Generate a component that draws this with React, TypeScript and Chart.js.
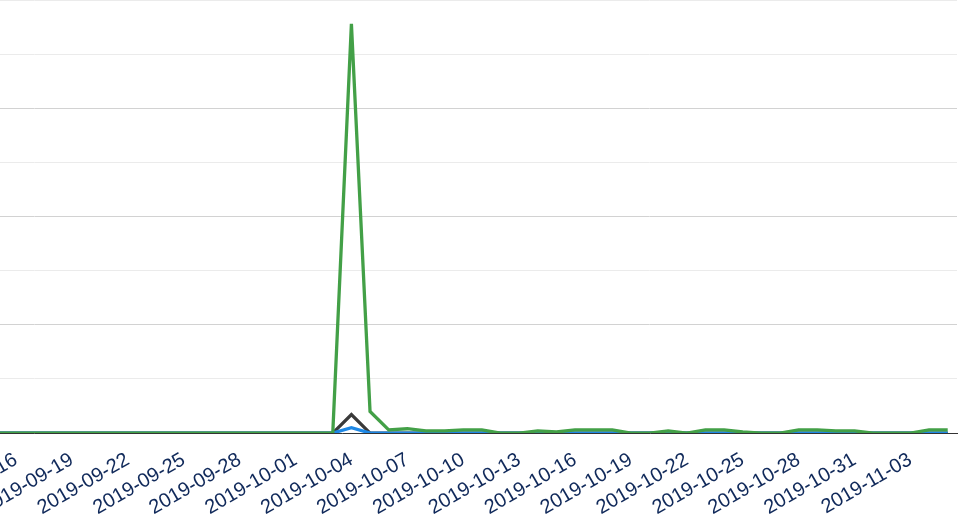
import React, { useEffect, useRef } from "react";
import { Chart, registerables } from "chart.js";

Chart.register(...registerables);

function buildDates(): string[] {
  const out: string[] = [];
  const start = new Date(Date.UTC(2019, 8, 1));
  const end = new Date(Date.UTC(2019, 10, 5));
  for (let d = start; d <= end; d = new Date(d.getTime() + 86400000)) {
    out.push(d.toISOString().slice(0, 10));
  }
  return out;
}

const dates: string[] = buildDates(); // 2019-09-01 .. 2019-11-05

const zerosBefore: number[] = [
  0, 0, 0, 0, 0, 0, 0, 0, 0, 0, 0, 0, 0, 0, 0, 0, 0, 0, 0, 0, 0, 0, 0, 0, 0, 0, 0, 0, 0, 0, 0, 0, 0,
];

// 2019-10-04 .. 2019-11-05
const greenTail: number[] = [
  378, 20, 3, 4, 2, 2, 3, 3, 0, 0,
  2, 1, 3, 3, 3, 0, 0, 2, 0, 3,
  3, 1, 0, 0, 3, 3, 2, 2,
  0, 0, 0, 3, 3,
];
const blueTail: number[] = [
  5, 0, 0, 0, 0, 0, 0, 0, 0, 0,
  0, 0, 0, 0, 0, 0, 0, 0, 0, 0,
  0, 0, 0, 0, 0, 0, 0, 0,
  0, 0, 0, 0, 0,
];
const darkTail: number[] = [
  17, 0, 0, 0, 0, 0, 0, 0, 0, 0,
  0, 0, 0, 0, 0, 0, 0, 0, 0, 0,
  0, 0, 0, 0, 0, 0, 0, 0,
  0, 0, 0, 0, 0,
];

const greenSeries: number[] = [...zerosBefore, ...greenTail];
const blueSeries: number[] = [...zerosBefore, ...blueTail];
const darkSeries: number[] = [...zerosBefore, ...darkTail];

const yMax = 400;
const yStep = 50;

export default function App() {
  const canvasRef = useRef<HTMLCanvasElement | null>(null);

  useEffect(() => {
    document.body.style.overflow = "hidden";
    const ctx = canvasRef.current;
    if (!ctx) return;
    const chart = new Chart(ctx, {
      type: "line",
      data: {
        labels: dates,
        datasets: [
          {
            label: "A",
            data: greenSeries,
            borderColor: "#43a047",
            borderWidth: 3.3,
            pointRadius: 0,
            tension: 0,
            fill: false,
          },
          {
            label: "B",
            data: blueSeries,
            borderColor: "#1e88e5",
            borderWidth: 3.3,
            pointRadius: 0,
            tension: 0,
            fill: false,
          },
          {
            label: "C",
            data: darkSeries,
            borderColor: "#3a3a3a",
            borderWidth: 3.3,
            pointRadius: 0,
            tension: 0,
            fill: false,
          },
        ],
      },
      options: {
        animation: false,
        responsive: true,
        maintainAspectRatio: false,
        plugins: {
          legend: { display: false },
          tooltip: { enabled: false },
        },
        layout: { padding: 0 },
        scales: {
          x: {
            offset: true,
            grid: { display: false, drawTicks: false },
            border: { display: true, color: "#333333", width: 1 },
            ticks: {
              autoSkip: false,
              minRotation: 30,
              maxRotation: 30,
              padding: 15,
              color: "#10295a",
              font: { family: "'Liberation Sans', Arial, sans-serif", size: 20 },
              callback: (_v: any, i: number) => (i % 3 === 0 ? dates[i] : ""),
            },
          },
          y: {
            min: 0,
            max: yMax,
            ticks: { display: false, stepSize: yStep },
            border: { display: false },
            grid: {
              drawTicks: false,
              color: (c: any) => (c.index % 2 === 0 && c.index < 8 ? "#d2d2d2" : "#ebebeb"),
            },
          },
        },
      },
    });
    return () => chart.destroy();
  }, []);

  return (
    <div
      style={{
        position: "absolute",
        left: -367,
        top: 0,
        width: 1341,
        height: 535,
      }}
    >
      <canvas ref={canvasRef} />
    </div>
  );
}
